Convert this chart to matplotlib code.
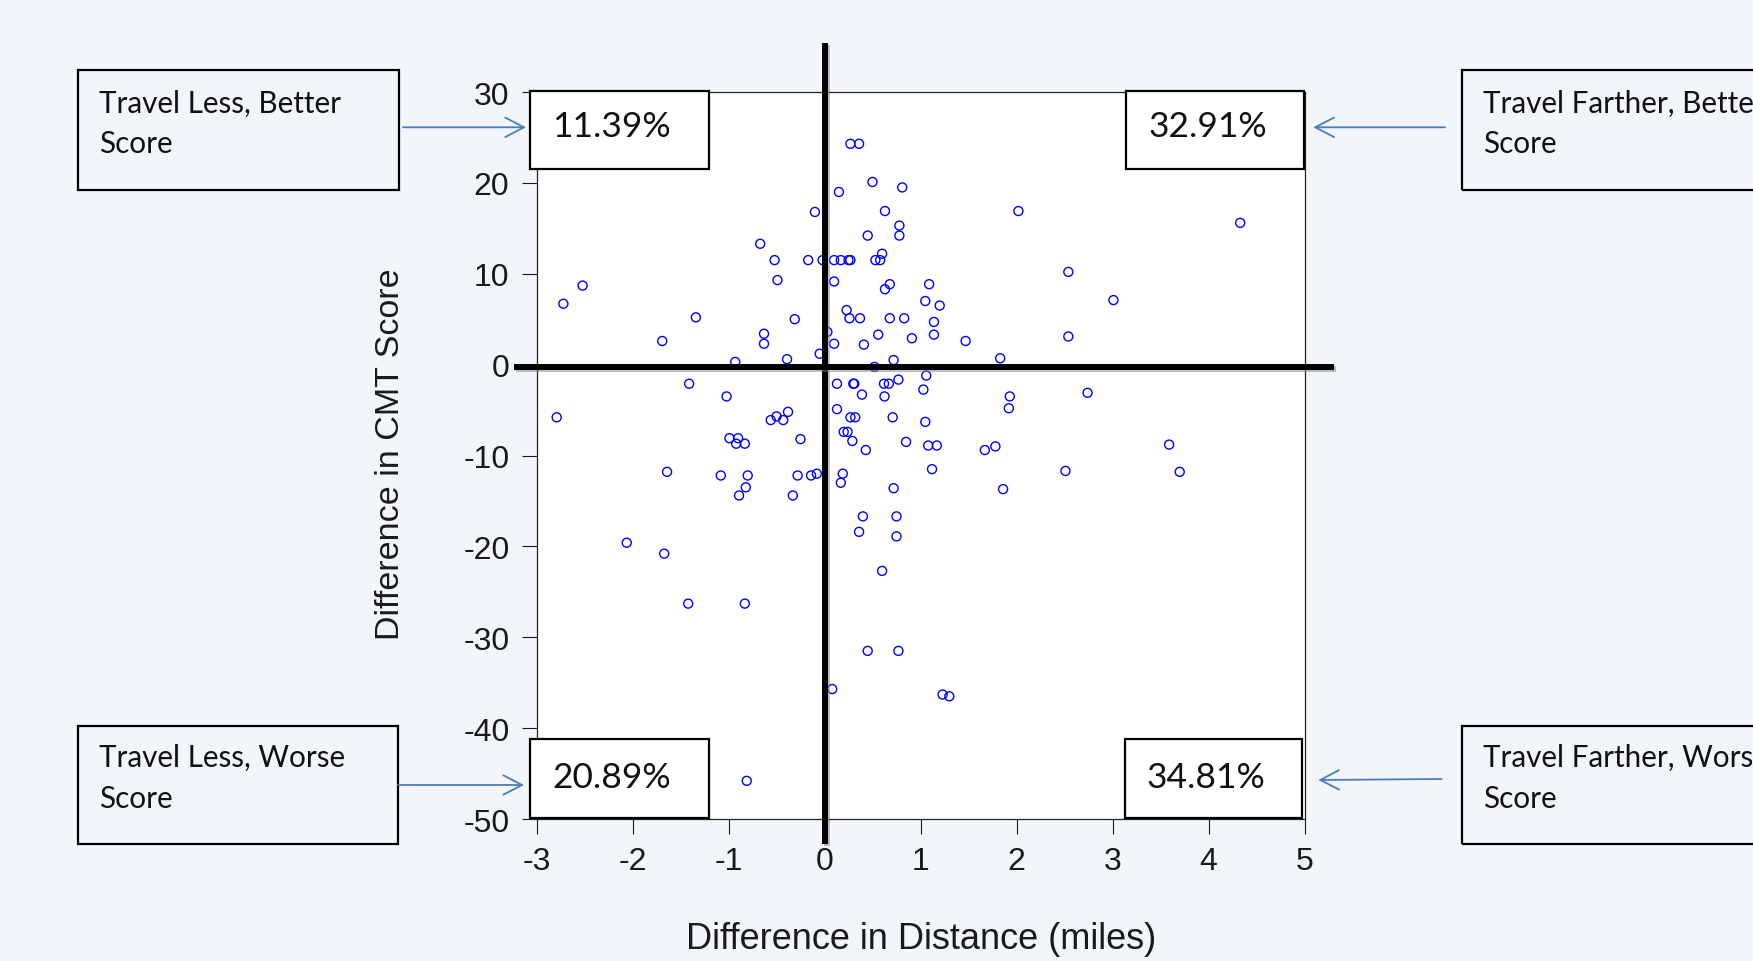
import matplotlib
matplotlib.use("Agg")
import matplotlib.pyplot as plt
import matplotlib.patches as mpatches
import matplotlib.patheffects as pe

plt.rcParams["axes.unicode_minus"] = False

# difference in distance (miles) vs difference in CMT score
dist_upper_left = [-0.10, -0.67, -0.52, -0.17, -0.02, -0.49, -2.52, -2.72, -1.34, -0.31,
                   -1.69, -0.63, -0.63, -0.39, -0.93, -0.05]
score_upper_left = [16.8, 13.3, 11.5, 11.5, 11.5, 9.3, 8.7, 6.7, 5.2, 5.0,
                    2.6, 3.4, 2.3, 0.6, 0.3, 1.2]

dist_lower_left = [-1.41, -1.02, -2.79, -0.56, -0.50, -0.43, -0.38, -0.25, -0.99, -0.90,
                   -0.92, -0.83, -1.64, -1.08, -0.80, -0.82, -0.89, -0.28, -0.33, -0.14,
                   -0.08, -2.06, -1.67, -1.42, -0.83, -0.81]
score_lower_left = [-2.1, -3.5, -5.8, -6.1, -5.7, -6.1, -5.2, -8.2, -8.1, -8.1,
                    -8.7, -8.7, -11.8, -12.2, -12.2, -13.5, -14.4, -12.2, -14.4, -12.2,
                    -12.0, -19.6, -20.8, -26.3, -26.3, -45.8]

dist_upper_right = [0.15, 0.10, 0.17, 0.25, 0.27, 0.10, 0.03, 0.10, 0.27, 0.36,
                    0.50, 0.81, 0.63, 2.02, 0.78, 0.78, 0.45, 0.53, 0.58, 0.60,
                    0.68, 0.63, 1.09, 2.54, 3.01, 1.05, 1.20, 0.23, 0.26, 0.37,
                    0.68, 0.83, 1.14, 1.14, 0.56, 0.91, 1.47, 2.54, 0.41, 0.72,
                    1.83, 4.33]
score_upper_right = [19.0, 11.5, 11.5, 11.5, 11.5, 9.15, 3.6, 2.3, 24.3, 24.3,
                     20.1, 19.5, 16.9, 16.9, 15.3, 14.2, 14.2, 11.5, 11.5, 12.2,
                     8.85, 8.3, 8.85, 10.2, 7.1, 7.0, 6.5, 6.0, 5.1, 5.1,
                     5.1, 5.1, 4.7, 3.3, 3.3, 2.9, 2.6, 3.1, 2.2, 0.5,
                     0.7, 15.6]

dist_lower_right = [0.52, 1.06, 0.77, 0.13, 0.30, 0.31, 0.62, 0.67, 1.03, 0.39,
                    0.625, 1.93, 2.74, 0.13, 0.27, 0.32, 0.71, 1.05, 1.92, 0.20,
                    0.24, 0.29, 0.43, 0.85, 1.08, 1.17, 1.67, 1.78, 1.12, 2.51,
                    0.72, 1.86, 0.40, 0.75, 0.36, 0.75, 0.60, 0.45, 0.77, 1.23,
                    1.30, 3.59, 3.70, 0.19, 0.17, 0.08]
score_lower_right = [-0.25, -1.2, -1.65, -2.1, -2.1, -2.1, -2.1, -2.1, -2.75, -3.3,
                     -3.5, -3.5, -3.1, -4.9, -5.8, -5.8, -5.8, -6.3, -4.8, -7.4,
                     -7.4, -8.4, -9.4, -8.5, -8.9, -8.9, -9.4, -9.0, -11.5, -11.7,
                     -13.6, -13.7, -16.7, -16.7, -18.4, -18.9, -22.7, -31.5, -31.5, -36.3,
                     -36.5, -8.8, -11.8, -12.0, -13.0, -35.7]

quadrant_pct = ["11.39%", "32.91%", "20.89%", "34.81%"]
quadrant_names = [("Travel Less, Better", "Score"),
                  ("Travel Farther, Better", "Score"),
                  ("Travel Less, Worse", "Score"),
                  ("Travel Farther, Worse", "Score")]

x_ticks = [-3, -2, -1, 0, 1, 2, 3, 4, 5]
y_ticks = [30, 20, 10, 0, -10, -20, -30, -40, -50]

W, H = 1753, 962
BG = "#f2f5f9"
ARROW = "#4a7ebb"
BOX_FONT = ["Lato", "DejaVu Sans"]
AX_FONT = ["Liberation Sans", "DejaVu Sans"]


def fx(px):
    return px / W


def fy(py):
    return 1 - py / H


fig = plt.figure(figsize=(W / 100, H / 100), dpi=100)
fig.patch.set_facecolor(BG)

ax = fig.add_axes([fx(536.5), fy(820), (1304.5 - 536.5) / W, (820 - 93) / H])
ax.set_facecolor("white")

xs = dist_upper_left + dist_lower_left + dist_upper_right + dist_lower_right
ys = score_upper_left + score_lower_left + score_upper_right + score_lower_right
ax.scatter(xs, ys, s=42, facecolors="none", edgecolors="#0000ff",
           linewidths=1.0, zorder=3)

ax.set_xlim(-3, 5)
ax.set_ylim(-50, 30)
ax.set_xticks(x_ticks)
ax.set_yticks(y_ticks)
ax.tick_params(direction="out", length=10.5, width=0.8, pad=9,
               labelsize=23, colors="#1a1a1a")
for lab in ax.get_xticklabels() + ax.get_yticklabels():
    lab.set_fontfamily(AX_FONT)
for sp in ax.spines.values():
    sp.set_linewidth(0.9)
    sp.set_color("#222222")

# quadrant dividers, extending a little past the frame
shadow = [pe.SimpleLineShadow(offset=(1.5, -1.5), shadow_color="#808080", alpha=0.5),
          pe.Normal()]
ax.axvline(0, ymin=-0.03, ymax=1.063, color="black", lw=4.3,
           clip_on=False, zorder=4, path_effects=shadow)
ax.axhline(-0.3, xmin=-0.026, xmax=1.035, color="black", lw=4.3,
           clip_on=False, zorder=4, path_effects=shadow)

fig.text(fx(921), fy(940), "Difference in Distance (miles)", ha="center",
         va="center", fontsize=26, family=AX_FONT, color="#1a1a1a")
fig.text(fx(390.5), fy(454), "Difference in CMT Score", ha="center",
         va="center", rotation=90, fontsize=24.5, family=AX_FONT, color="#1a1a1a")

# percentage boxes inside the plot corners: (left, top, right, bottom, text_x, baseline)
pct_boxes = [(530, 91.7, 709, 170, 552, 137.3),
             (1126, 91.7, 1304, 170, 1148, 137.3),
             (530, 740, 709, 819.3, 552, 788.3),
             (1125, 740, 1302, 819.3, 1146, 788.3)]
for (l, t, r, b, tx, base), pct in zip(pct_boxes, quadrant_pct):
    fig.add_artist(mpatches.Rectangle((fx(l), fy(b)), (r - l) / W, (b - t) / H,
                                      transform=fig.transFigure, facecolor="white",
                                      edgecolor="black", lw=1.6, zorder=5))
    fig.text(fx(tx), fy(base), pct, ha="left", va="baseline", fontsize=25.5,
             family=BOX_FONT, color="#111111", zorder=6)

# description boxes outside the plot (the right ones run off the page, as in the source)
name_boxes = [(77.7, 71, 399.3, 190.7, 99, 112.7, 153.3),
              (1462.3, 71, 1800, 190.7, 1483.3, 112.7, 153.3),
              (77.7, 726.7, 397.7, 845, 99, 766.7, 808.3),
              (1462.3, 726.7, 1800, 845, 1483.3, 766.7, 808.3)]
for (l, t, r, b, tx, b1, b2), (line1, line2) in zip(name_boxes, quadrant_names):
    fig.add_artist(mpatches.Rectangle((fx(l), fy(b)), (r - l) / W, (b - t) / H,
                                      transform=fig.transFigure, facecolor="none",
                                      edgecolor="black", lw=1.6, zorder=5))
    fig.text(fx(tx), fy(b1), line1, ha="left", va="baseline", fontsize=21.3,
             family=BOX_FONT, color="#111111", zorder=6)
    fig.text(fx(tx), fy(b2), line2, ha="left", va="baseline", fontsize=21.3,
             family=BOX_FONT, color="#111111", zorder=6)

# arrows from description boxes to percentage boxes: (start, end)
arrows = [((403, 128.3), (526, 128.3)),
          ((1445, 128.3), (1313.3, 128.3)),
          ((398, 786), (524, 786)),
          ((1441.7, 780), (1318.3, 781))]
for (x0, y0), (x1, y1) in arrows:
    fig.add_artist(mpatches.FancyArrowPatch(
        (fx(x0), fy(y0)), (fx(x1), fy(y1)), transform=fig.transFigure,
        arrowstyle="->,head_length=1.35,head_width=0.7", mutation_scale=10,
        color=ARROW, lw=1.3, shrinkA=0, shrinkB=0, zorder=6))

fig.savefig("out.png", dpi=100, facecolor=BG)
